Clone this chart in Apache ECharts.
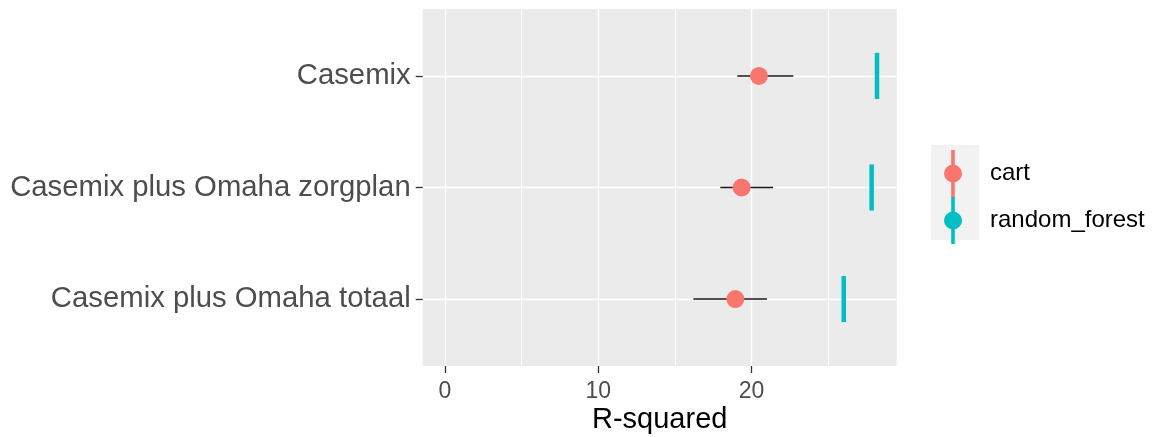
<!DOCTYPE html>
<html>
<head>
<meta charset="utf-8">
<script src="https://cdn.jsdelivr.net/npm/echarts@6/dist/echarts.min.js"></script>
<style>
html, body { margin: 0; padding: 0; background: #ffffff; }
#chart { width: 1158px; height: 437px; }
</style>
</head>
<body>
<div id="chart"></div>
<script>
// ---- data ----
const categories = ['Casemix', 'Casemix plus Omaha zorgplan', 'Casemix plus Omaha totaal'];
const cartEstimate = [20.48, 19.35, 18.94];
const cartLower = [19.07, 17.96, 16.20];
const cartUpper = [22.72, 21.40, 21.00];
const forestEstimate = [28.18, 27.83, 26.01];
const seriesNames = ['cart', 'random_forest'];
const xTickValues = [0, 10, 20];
const xAxisTitle = 'R-squared';

// ---- layout / style ----
const FONT = '"Liberation Sans", Arial, sans-serif';
const CART_COLOR = '#F8766D';
const RF_COLOR = '#00BFC4';
const PANEL_BG = '#EBEBEB';
const P_LEFT = 422.7, P_RIGHT = 896.7, P_TOP = 9, P_BOTTOM = 366;
const P_H = P_BOTTOM - P_TOP;
const X0 = 445, PX_PER_UNIT = 15.33;  // pixel of value 0, pixel per unit
const X_MAX_AXIS = 30;
const CAT_EXPAND = 0.6;
const catUnit = P_H / (categories.length - 1 + 2 * CAT_EXPAND);

const cartPoints = cartEstimate.map((v, i) => [v, i]);
const cartBars = cartLower.map((lo, i) => [lo, cartUpper[i], i]);
const forestPoints = forestEstimate.map((v, i) => [v, i]);

const chart = echarts.init(document.getElementById('chart'), null, { renderer: 'canvas' });

const legendIcon = 'path://M7.2,0 L10.8,0 L10.8,47 L7.2,47 Z M0,23.5 A9,9 0 1,1 18,23.5 A9,9 0 1,1 0,23.5 Z';

const option = {
  animation: false,
  backgroundColor: '#ffffff',
  textStyle: { fontFamily: FONT },
  graphic: [{
    type: 'rect', z: -1,
    shape: { x: 931, y: 145, width: 48, height: 95 },
    style: { fill: '#F2F2F2' }
  }],
  grid: [
    { left: P_LEFT, top: P_TOP, width: P_RIGHT - P_LEFT, height: P_H,
      show: true, backgroundColor: PANEL_BG, borderWidth: 0, containLabel: false, outerBoundsMode: 'none' },
    { left: P_LEFT, top: P_TOP + CAT_EXPAND * catUnit, width: P_RIGHT - P_LEFT,
      height: (categories.length - 1) * catUnit, show: false, containLabel: false, outerBoundsMode: 'none' },
    { left: X0, top: P_TOP, width: X_MAX_AXIS * PX_PER_UNIT, height: P_H,
      show: false, containLabel: false, outerBoundsMode: 'none' }
  ],
  xAxis: [
    { gridIndex: 0, type: 'value', min: 0, max: 1,
      name: xAxisTitle, nameLocation: 'middle', nameGap: 39,
      nameTextStyle: { color: '#000000', fontSize: 29, fontFamily: FONT },
      axisLine: { show: false, onZero: false }, axisTick: { show: false }, axisLabel: { show: false },
      splitLine: { show: false } },
    { gridIndex: 1, type: 'value', min: 0, max: 1, show: false, axisLine: { onZero: false } },
    { gridIndex: 2, type: 'value', min: 0, max: X_MAX_AXIS, interval: 10, position: 'bottom',
      axisLine: { show: false, onZero: false },
      axisTick: { show: true, length: 7, customValues: xTickValues,
                  lineStyle: { color: '#333333', width: 1.3 } },
      axisLabel: { show: true, margin: 14, customValues: xTickValues,
                   color: '#4D4D4D', fontSize: 23, fontFamily: FONT,
                   formatter: v => (xTickValues.indexOf(v) >= 0 ? String(v) : '') },
      splitLine: { show: true, lineStyle: { color: '#ffffff', width: 1.4 } },
      minorTick: { show: false, splitNumber: 2 },
      minorSplitLine: { show: true, lineStyle: { color: '#ffffff', width: 1 } } }
  ],
  yAxis: [
    { gridIndex: 0, type: 'value', show: false, axisLine: { onZero: false } },
    { gridIndex: 1, type: 'category', data: categories, inverse: true, boundaryGap: false,
      axisLine: { show: false, onZero: false },
      axisTick: { show: true, length: 7, alignWithLabel: true,
                  lineStyle: { color: '#333333', width: 1.3 } },
      axisLabel: { show: true, margin: 12, color: '#4D4D4D', fontSize: 29.3, fontFamily: FONT, interval: 0 },
      splitLine: { show: true, interval: 0, lineStyle: { color: '#ffffff', width: 1.4 } } },
    { gridIndex: 2, type: 'value', min: -CAT_EXPAND, max: categories.length - 1 + CAT_EXPAND,
      inverse: true, show: false, axisLine: { onZero: false } }
  ],
  legend: {
    orient: 'vertical', left: 939, top: 145,
    itemWidth: 64, itemHeight: 47, itemGap: 0,
    textStyle: { color: '#000000', fontSize: 24, fontFamily: FONT },
    selectedMode: false,
    data: [
      { name: seriesNames[0], icon: legendIcon, itemStyle: { color: CART_COLOR } },
      { name: seriesNames[1], icon: legendIcon, itemStyle: { color: RF_COLOR } }
    ]
  },
  series: [
    {
      name: seriesNames[0] + '_bar', type: 'custom', xAxisIndex: 2, yAxisIndex: 2,
      data: cartBars, encode: { x: [0, 1], y: 2 }, z: 2,
      renderItem: function (params, api) {
        const p1 = api.coord([api.value(0), api.value(2)]);
        const p2 = api.coord([api.value(1), api.value(2)]);
        return { type: 'line', shape: { x1: p1[0], y1: p1[1], x2: p2[0], y2: p2[1] },
                 style: { stroke: '#1A1A1A', lineWidth: 1.5 } };
      }
    },
    {
      name: seriesNames[0], type: 'scatter', xAxisIndex: 2, yAxisIndex: 2,
      data: cartPoints, symbol: 'circle', symbolSize: 18, z: 3,
      itemStyle: { color: CART_COLOR, opacity: 1 }
    },
    {
      name: seriesNames[1], type: 'custom', xAxisIndex: 2, yAxisIndex: 2,
      data: forestPoints, encode: { x: 0, y: 1 }, z: 3,
      itemStyle: { color: RF_COLOR },
      renderItem: function (params, api) {
        const c = api.coord([api.value(0), api.value(1)]);
        const half = Math.abs(api.size([0, 0.207])[1]);
        return { type: 'line', shape: { x1: c[0], y1: c[1] - half, x2: c[0], y2: c[1] + half },
                 style: { stroke: RF_COLOR, lineWidth: 4.5, lineCap: 'butt' } };
      }
    }
  ]
};
chart.setOption(option);
</script>
</body>
</html>
